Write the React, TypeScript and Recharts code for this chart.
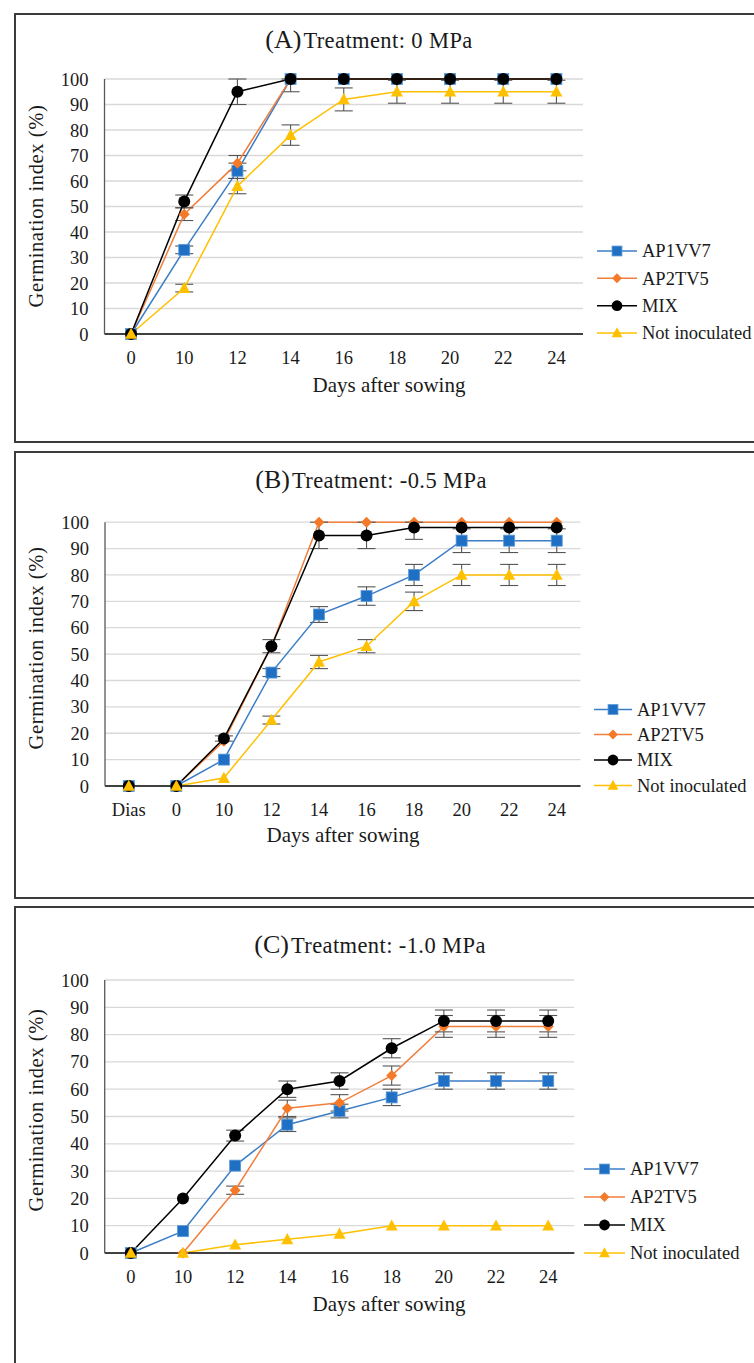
import React from 'react';
import { LineChart, Line, XAxis, YAxis, CartesianGrid, ErrorBar, Legend } from 'recharts';

// ---------------- DATA ----------------
const daysA = ['0', '10', '12', '14', '16', '18', '20', '22', '24'];
const aAP1VV7 = [0, 33, 64, 100, 100, 100, 100, 100, 100];
const aAP1VV7Err = [0, 1.5, 3, 0, 0, 0, 0, 0, 0];
const aAP2TV5 = [0, 47, 67, 100, 100, 100, 100, 100, 100];
const aAP2TV5Err = [0, 2.5, 3, 5, 0, 0, 0, 0, 0];
const aMIX = [0, 52, 95, 100, 100, 100, 100, 100, 100];
const aMIXErr = [0, 2.5, 5, 0, 0, 0, 0, 0, 0];
const aNotInoc = [0, 18, 58, 78, 92, 95, 95, 95, 95];
const aNotInocErr = [0, 1.5, 3, 4, 4.5, 4.5, 4.5, 4.5, 4.5];

const daysB = ['Dias', '0', '10', '12', '14', '16', '18', '20', '22', '24'];
const bAP1VV7 = [0, 0, 10, 43, 65, 72, 80, 93, 93, 93];
const bAP1VV7Err = [0, 0, 0, 1.5, 3, 3.5, 4, 4.5, 4.5, 4.5];
const bAP2TV5 = [0, 0, 17, 53, 100, 100, 100, 100, 100, 100];
const bAP2TV5Err = [0, 0, 0, 0, 0, 0, 0, 0, 0, 0];
const bMIX = [0, 0, 18, 53, 95, 95, 98, 98, 98, 98];
const bMIXErr = [0, 0, 1, 2.5, 5, 5, 4.5, 0, 0, 0];
const bNotInoc = [0, 0, 3, 25, 47, 53, 70, 80, 80, 80];
const bNotInocErr = [0, 0, 0, 1.5, 2.5, 2.5, 3.5, 4, 4, 4];

const daysC = ['0', '10', '12', '14', '16', '18', '20', '22', '24'];
const cAP1VV7 = [0, 8, 32, 47, 52, 57, 63, 63, 63];
const cAP1VV7Err = [0, 0, 0, 2.5, 2.5, 3, 3, 3, 3];
const cAP2TV5 = [0, 0, 23, 53, 55, 65, 83, 83, 83];
const cAP2TV5Err = [0, 0, 1.5, 3, 3, 3.5, 4, 4, 4];
const cMIX = [0, 20, 43, 60, 63, 75, 85, 85, 85];
const cMIXErr = [0, 0, 2, 3, 3, 3.5, 4, 4, 4];
const cNotInoc = [0, 0, 3, 5, 7, 10, 10, 10, 10];
const cNotInocErr = [0, 0, 0, 0, 0, 0, 0, 0, 0];

const yTicks = [0, 10, 20, 30, 40, 50, 60, 70, 80, 90, 100];
const seriesNames = ['AP1VV7', 'AP2TV5', 'MIX', 'Not inoculated'];

// ---------------- STYLE ----------------
const FONT = '"Liberation Serif", "Times New Roman", Times, serif';
type Shape = 'square' | 'diamond' | 'circle' | 'triangle';
const SERIES: { key: string; line: string; fill: string; shape: Shape }[] = [
  { key: 's0', line: '#3B7DC6', fill: '#1F6FC5', shape: 'square' },
  { key: 's1', line: '#F07F3C', fill: '#F47A2A', shape: 'diamond' },
  { key: 's2', line: '#000000', fill: '#000000', shape: 'circle' },
  { key: 's3', line: '#FFC000', fill: '#FFC000', shape: 'triangle' },
];

function Marker({ shape, cx, cy, fill, k = 1 }: { shape: Shape; cx: number; cy: number; fill: string; k?: number }) {
  if (cx == null || cy == null || isNaN(cx) || isNaN(cy)) return null;
  if (shape === 'square') {
    const h = 5.5 * k;
    return <rect x={cx - h} y={cy - h} width={2 * h} height={2 * h} fill={fill} stroke="#5B9BD5" strokeWidth={0.8} />;
  }
  if (shape === 'diamond') {
    const h = 5.5 * k;
    return <polygon points={`${cx},${cy - h} ${cx + h},${cy} ${cx},${cy + h} ${cx - h},${cy}`} fill={fill} />;
  }
  if (shape === 'circle') {
    return <circle cx={cx} cy={cy} r={6 * k} fill={fill} />;
  }
  const h = 6 * k;
  return <polygon points={`${cx},${cy - h * 1.05} ${cx + h},${cy + h * 0.8} ${cx - h},${cy + h * 0.8}`} fill={fill} />;
}

type PanelDef = {
  days: string[];
  values: number[][];
  errors: number[][];
  chartTop: number;
  chartHeight: number;
  plotLeft: number;
  plotRight: number;
  plotTop: number;
  plotBottom: number;
  legend: { x1: number; x2: number; tx: number; rows: number[] };
};

const PANELS: PanelDef[] = [
  {
    days: daysA,
    values: [aAP1VV7, aAP2TV5, aMIX, aNotInoc],
    errors: [aAP1VV7Err, aAP2TV5Err, aMIXErr, aNotInocErr],
    chartTop: 13, chartHeight: 430, plotLeft: 104.5, plotRight: 583, plotTop: 79, plotBottom: 334,
    legend: { x1: 597, x2: 637, tx: 642, rows: [251, 278.3, 305.7, 333] },
  },
  {
    days: daysB,
    values: [bAP1VV7, bAP2TV5, bMIX, bNotInoc],
    errors: [bAP1VV7Err, bAP2TV5Err, bMIXErr, bNotInocErr],
    chartTop: 450.5, chartHeight: 448, plotLeft: 105, plotRight: 580.5, plotTop: 521.7, plotBottom: 785.5,
    legend: { x1: 594, x2: 632, tx: 637, rows: [709, 734, 759.5, 785] },
  },
  {
    days: daysC,
    values: [cAP1VV7, cAP2TV5, cMIX, cNotInoc],
    errors: [cAP1VV7Err, cAP2TV5Err, cMIXErr, cNotInocErr],
    chartTop: 906, chartHeight: 457, plotLeft: 104.7, plotRight: 574.3, plotTop: 980, plotBottom: 1253,
    legend: { x1: 584, x2: 625, tx: 630, rows: [1169, 1197, 1225, 1253] },
  },
];

const TITLES = [
  { letter: '(A)', text: 'Treatment: 0 MPa', cx: 369, base: 48, xl: 389, xlBase: 392, yl: 206 },
  { letter: '(B)', text: 'Treatment: -0.5 MPa', cx: 371, base: 487.5, xl: 343, xlBase: 841.5, yl: 648 },
  { letter: '(C)', text: 'Treatment: -1.0 MPa', cx: 370, base: 952.5, xl: 389, xlBase: 1311, yl: 1110 },
];

const BORDERS = [
  { top: 13, height: 430 },
  { top: 450.5, height: 448 },
  { top: 906, height: 470 },
];

function Panel({ p }: { p: PanelDef }) {
  const data = p.days.map((d, i) => {
    const row: any = { day: d };
    SERIES.forEach((s, j) => {
      const v = p.values[j][i];
      const e = p.errors[j][i];
      row[s.key] = v;
      row[s.key + 'e'] = e > 0 ? [e, Math.max(0, Math.min(e, 100 - v))] : null;
    });
    return row;
  });
  const xAxisH = 30;
  const margin = {
    top: p.plotTop - p.chartTop,
    right: 754 - p.plotRight,
    bottom: p.chartTop + p.chartHeight - p.plotBottom - xAxisH,
    left: 0,
  };
  const lg = p.legend;
  const renderLegend = () => (
    <svg width={754} height={p.chartHeight} style={{ position: 'absolute', left: 0, top: 0, overflow: 'visible' }}>
      {SERIES.map((s, j) => {
        const y = lg.rows[j] - p.chartTop;
        return (
          <g key={s.key}>
            <line x1={lg.x1} x2={lg.x2} y1={y} y2={y} stroke={s.line} strokeWidth={1.5} />
            <Marker shape={s.shape} cx={(lg.x1 + lg.x2) / 2} cy={y} fill={s.fill} k={0.9} />
            <text x={lg.tx} y={y} dy="0.35em" style={{ fontFamily: FONT }} fontSize={18.5} fill="#1a1a1a">{seriesNames[j]}</text>
          </g>
        );
      })}
    </svg>
  );
  return (
    <div style={{ position: 'absolute', left: 0, top: p.chartTop, fontFamily: FONT }}>
      <LineChart width={754} height={p.chartHeight} data={data} margin={margin} style={{ fontFamily: FONT }}>
        <CartesianGrid vertical={false} stroke="#D9D9D9" strokeWidth={1.3} />
        <XAxis
          dataKey="day"
          type="category"
          scale="band"
          height={xAxisH}
          interval={0}
          tickLine={false}
          axisLine={{ stroke: '#404040', strokeWidth: 1.8 }}
          tick={{ fontSize: 18.5, fill: '#1a1a1a', fontFamily: FONT }}
          tickMargin={11}
        />
        <YAxis
          type="number"
          width={p.plotLeft}
          domain={[0, 100]}
          ticks={yTicks}
          interval={0}
          tickLine={false}
          axisLine={{ stroke: '#595959', strokeWidth: 1.3 }}
          tick={{ fontSize: 18.5, fill: '#1a1a1a', fontFamily: FONT }}
          tickMargin={10}
        />
        <Legend
          layout="vertical"
          align="center"
          verticalAlign="middle"
          wrapperStyle={{ position: 'absolute', left: 0, top: 0, width: 754, height: p.chartHeight, pointerEvents: 'none' }}
          content={renderLegend}
        />
        {SERIES.map((s, j) => (
          <Line
            key={s.key}
            dataKey={s.key}
            name={seriesNames[j]}
            type="linear"
            stroke={s.line}
            strokeWidth={1.5}
            isAnimationActive={false}
            activeDot={false}
            dot={(dp: any) => (
              <Marker key={`${s.key}-${dp.index}`} shape={s.shape} cx={dp.cx} cy={dp.cy} fill={s.fill} />
            )}
          >
            <ErrorBar dataKey={s.key + 'e'} width={9} strokeWidth={1.1} stroke="#555555" direction="y" />
          </Line>
        ))}
      </LineChart>
    </div>
  );
}

export default function App() {
  return (
    <div style={{ position: 'relative', width: 754, height: 1363, overflow: 'hidden', background: '#fff', fontFamily: FONT }}>
      <style>{'body{margin:0;overflow:hidden;background:#fff} .recharts-text{font-family:"Liberation Serif","Times New Roman",serif}'}</style>
      {BORDERS.map((b, i) => (
        <div
          key={i}
          style={{
            position: 'absolute', left: 14, top: b.top, width: 760, height: b.height,
            border: '2px solid #3c3c3c', boxSizing: 'border-box',
          }}
        />
      ))}
      {PANELS.map((p, i) => (
        <Panel key={i} p={p} />
      ))}
      <svg width={754} height={1363} style={{ position: 'absolute', left: 0, top: 0, pointerEvents: 'none' }}>
        {TITLES.map((t, i) => (
          <g key={i} style={{ fontFamily: FONT }} fill="#1a1a1a">
            <text x={t.cx} y={t.base} textAnchor="middle">
              <tspan fontSize={26}>{t.letter}</tspan>
              <tspan fontSize={22.5} letterSpacing={0.4} dx={2}>{t.text}</tspan>
            </text>
            <text x={t.xl} y={t.xlBase} textAnchor="middle" fontSize={21}>Days after sowing</text>
            <text
              x={43}
              y={t.yl}
              textAnchor="middle"
              fontSize={20.5}
              letterSpacing={0.6}
              transform={`rotate(-90 43 ${t.yl})`}
            >
              Germination index (%)
            </text>
          </g>
        ))}
      </svg>
    </div>
  );
}
